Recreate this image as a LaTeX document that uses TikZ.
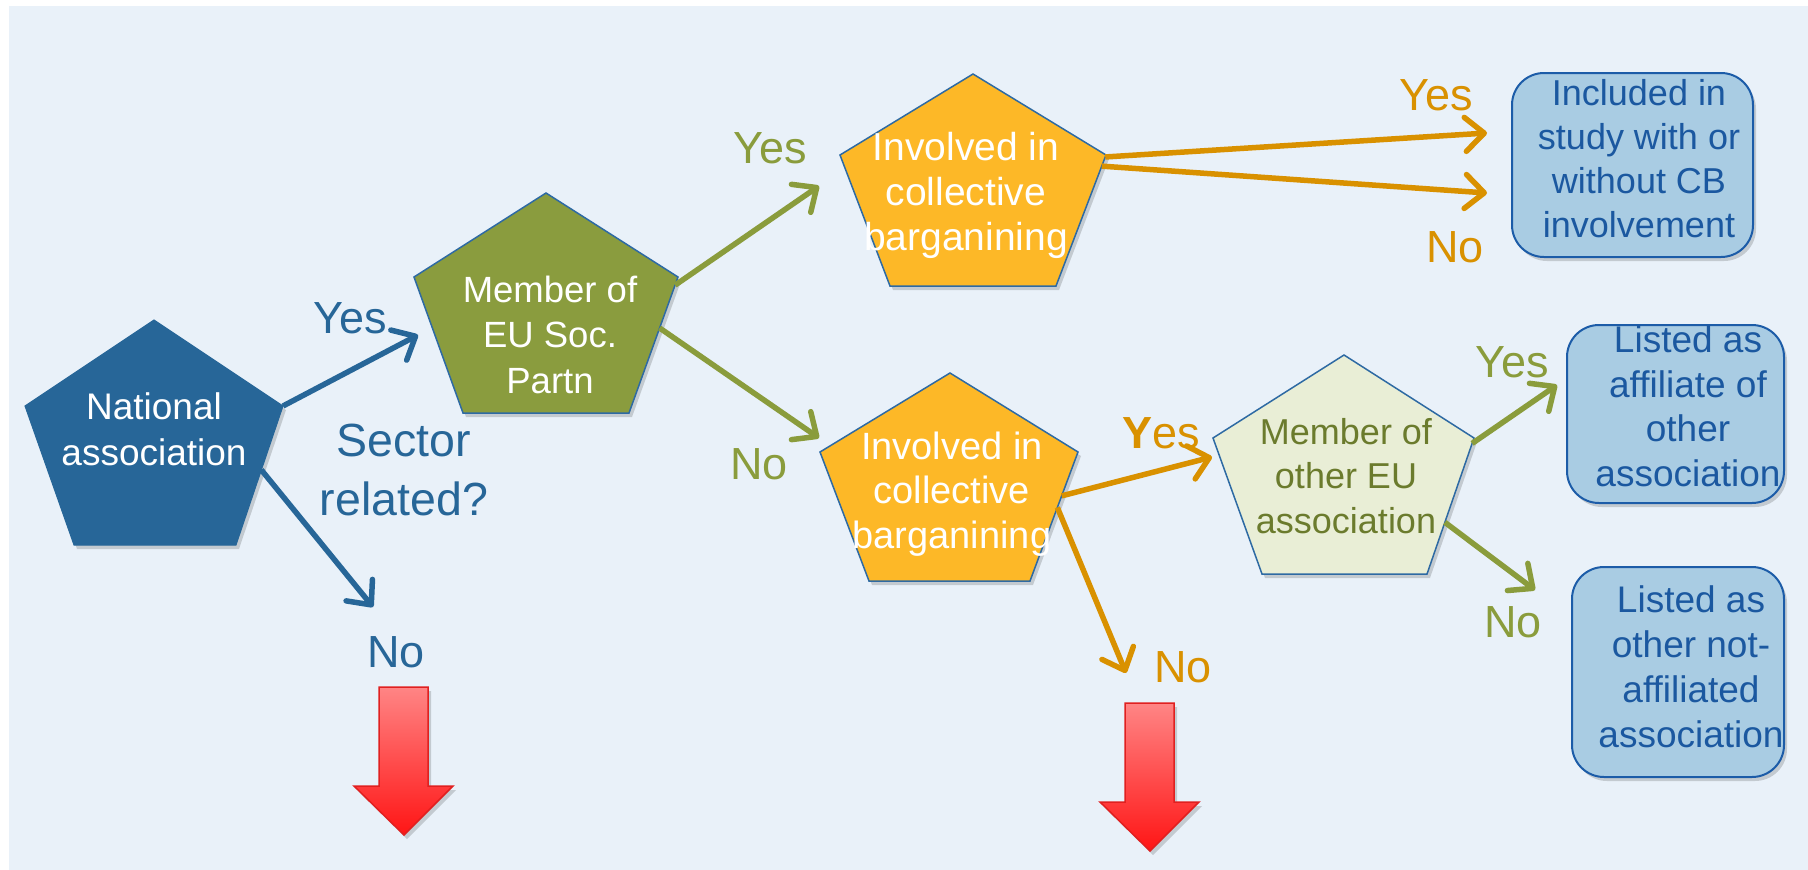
\documentclass[tikz,border=0pt]{standalone}
\usepackage{fontspec}
\setmainfont{Liberation Sans}
\usetikzlibrary{arrows.meta,calc}
\definecolor{bg}{HTML}{E9F1F9}
\definecolor{natblue}{HTML}{276698}
\definecolor{edgeblue}{HTML}{2E6AA3}
\definecolor{olive}{HTML}{8A9C3E}
\definecolor{greenarr}{HTML}{8A9C3C}
\definecolor{orfill}{HTML}{FDB827}
\definecolor{orarr}{HTML}{D99100}
\definecolor{lightol}{HTML}{E9EED6}
\definecolor{oltext}{HTML}{6B7B2D}
\definecolor{boxfill}{HTML}{A9CCE3}
\definecolor{boxedge}{HTML}{1C5CA8}
\definecolor{boxtext}{HTML}{1B58A0}
\definecolor{redtop}{HTML}{FF8585}
\definecolor{redbot}{HTML}{FF1515}
\definecolor{rededge}{HTML}{E02020}
\newcommand\pentagon[7]{%
  \begin{scope}[xshift=3pt,yshift=-4pt]
    \fill[black,opacity=0.16] #3 -- #4 -- #5 -- #6 -- #7 -- cycle;
  \end{scope}
  \draw[#2] #3 coordinate (#1-t) -- #4 coordinate (#1-r) -- #5 coordinate (#1-br)
    -- #6 coordinate (#1-bl) -- #7 coordinate (#1-l) -- cycle;
}
\newcommand\redarrow[3]{% #1 centre x, #2 top y, #3 y where the head starts
  \begin{scope}[xshift=3pt,yshift=-4pt]
    \fill[black,opacity=0.16] (#1-25,#2) -- (#1+24,#2) -- (#1+24,#3) -- (#1+49,#3) -- (#1,#3+49) -- (#1-50,#3) -- (#1-25,#3) -- cycle;
  \end{scope}
  \shade[top color=redtop,bottom color=redbot,draw=rededge,line width=1.5pt,line join=miter]
    (#1-25,#2) -- (#1+24,#2) -- (#1+24,#3) -- (#1+49,#3) -- (#1,#3+49) -- (#1-50,#3) -- (#1-25,#3) -- cycle;
}
\begin{document}
\begin{tikzpicture}[x=1pt,y=-1pt,
  arr/.style={line width=5.5pt,-{Straight Barb[length=19pt,width=34pt,round]}},
  barr/.style={arr,draw=natblue},
  garr/.style={arr,draw=greenarr},
  oarr/.style={arr,draw=orarr},
  lbl/.style={inner sep=0pt,anchor=base,font=\fontsize{45}{54}\selectfont},
  ptext/.style={inner sep=0pt,anchor=north,align=center},
  boxsh/.style={rounded corners=32pt,inner sep=0pt,line width=2pt,draw=boxedge,fill=boxfill},
  boxshadow/.style={rounded corners=32pt,inner sep=0pt,fill=black,opacity=0.16},
]
\useasboundingbox (0,0) rectangle (1808,870);
\fill[white] (0,0) rectangle (1808,870);
\fill[bg] (9,6) rectangle (1808,870);

% pentagons
\pentagon{nat}{fill=natblue,draw=natblue,line width=1pt}{(154,320)}{(283,406)}{(236,545)}{(74,545)}{(25,406)}
\pentagon{mem}{fill=olive,draw=edgeblue,line width=1.5pt}{(546,193)}{(678,277)}{(629,413)}{(463,413)}{(414,277)}
\pentagon{inva}{fill=orfill,draw=edgeblue,line width=1.5pt}{(973,74)}{(1106,155)}{(1056,286)}{(890,286)}{(840,155)}
\pentagon{invb}{fill=orfill,draw=edgeblue,line width=1.5pt}{(950,373)}{(1078,452)}{(1030,581)}{(869,581)}{(820,452)}
\pentagon{memb}{fill=lightol,draw=edgeblue,line width=1.5pt}{(1344,355)}{(1474,438)}{(1427,574)}{(1262,574)}{(1213,438)}

% boxes
\node[boxshadow,minimum width=241pt,minimum height=184pt] at (1635.5,169) {};
\node[boxsh,minimum width=241pt,minimum height=184pt] (boxa) at (1632.5,165) {};
\node[boxshadow,minimum width=217pt,minimum height=178pt] at (1678.5,418) {};
\node[boxsh,minimum width=217pt,minimum height=178pt] (boxb) at (1675.5,414) {};
\node[boxshadow,minimum width=212pt,minimum height=210pt] at (1681,676) {};
\node[boxsh,minimum width=212pt,minimum height=210pt] (boxc) at (1678,672) {};

% texts in shapes
\node[ptext,text=white,font=\fontsize{37}{46}\selectfont] (natt) at (154,392.4) {National\\association};
\node[ptext,text=white,font=\fontsize{36.5}{45.5}\selectfont] (memt) at (550,275.7) {Member of\\EU Soc.\\Partn};
\node[ptext,text=white,font=\fontsize{39}{45}\selectfont] (invat) at (966,132) {Involved in\\collective\\barganining};
\node[ptext,text=white,font=\fontsize{38}{44.5}\selectfont] (invbt) at (952,431.6) {Involved in\\collective\\barganining};
\node[ptext,text=oltext,font=\fontsize{36}{44.5}\selectfont] (membt) at (1346,418) {Member of\\other EU\\association};
\node[ptext,text=boxtext,font=\fontsize{36}{44}\selectfont] (boxat) at (1639,79) {Included in\\study with or\\without CB\\involvement};
\node[ptext,text=boxtext,font=\fontsize{37}{44.7}\selectfont] (boxbt) at (1688,325.4) {Listed as\\affiliate of\\other\\association};
\node[ptext,text=boxtext,font=\fontsize{37}{45}\selectfont] (boxct) at (1691,585.4) {Listed as\\other not-\\affiliated\\association};
\node[ptext,text=natblue,font=\fontsize{46.5}{59}\selectfont] (sector) at (404,424) {Sector\\related?};

% arrow end points
\coordinate (natyes) at (418,335);
\coordinate (natno) at (373,607);
\coordinate (memyes) at (819,186);
\coordinate (memno) at (819,438);
\coordinate (invayes) at (1487,133);
\coordinate (invano) at (1487,193);
\coordinate (invbyes) at (1212,457);
\coordinate (invbno) at (1126,673);
\coordinate (membyes) at (1557,385);
\coordinate (membno) at (1535,590);

% arrows
\draw[barr] (nat-r) -- (natyes);
\draw[barr] ($(nat-r)!0.46!(nat-br)$) -- (natno);
\draw[garr] ($(mem-r)!0.06!(mem-br)$) -- (memyes);
\draw[garr] ($(mem-r)!0.375!(mem-br)$) -- (memno);
\draw[oarr] ($(inva-r)!0.015!(inva-br)$) -- (invayes);
\draw[oarr] ($(inva-r)!0.085!(inva-br)$) -- (invano);
\draw[oarr] ($(invb-r)!0.34!(invb-br)$) -- (invbyes);
\draw[oarr] ($(invb-r)!0.43!(invb-br)$) -- (invbno);
\draw[garr] ($(memb-r)!0.04!(memb-br)$) -- (membyes);
\draw[garr] ($(memb-r)!0.62!(memb-br)$) -- (membno);

% labels
\node[lbl,text=natblue] (l1) at (350,333) {Yes};
\node[lbl,text=natblue] (l2) at (396,667) {No};
\node[lbl,text=greenarr] (l3) at (770,163) {Yes};
\node[lbl,text=greenarr] (l4) at (759,479) {No};
\node[lbl,text=orarr] (l5) at (1436,110) {Yes};
\node[lbl,text=orarr] (l6) at (1455,262) {No};
\node[lbl,text=orarr] (l7) at (1161,448) {\textbf{Y}es};
\node[lbl,text=orarr] (l8) at (1183,682) {No};
\node[lbl,text=greenarr] (l9) at (1512,377) {Yes};
\node[lbl,text=greenarr] (l10) at (1513,637) {No};

% red arrows
\redarrow{404}{687}{786}
\redarrow{1150}{703}{802}
\end{tikzpicture}
\end{document}
